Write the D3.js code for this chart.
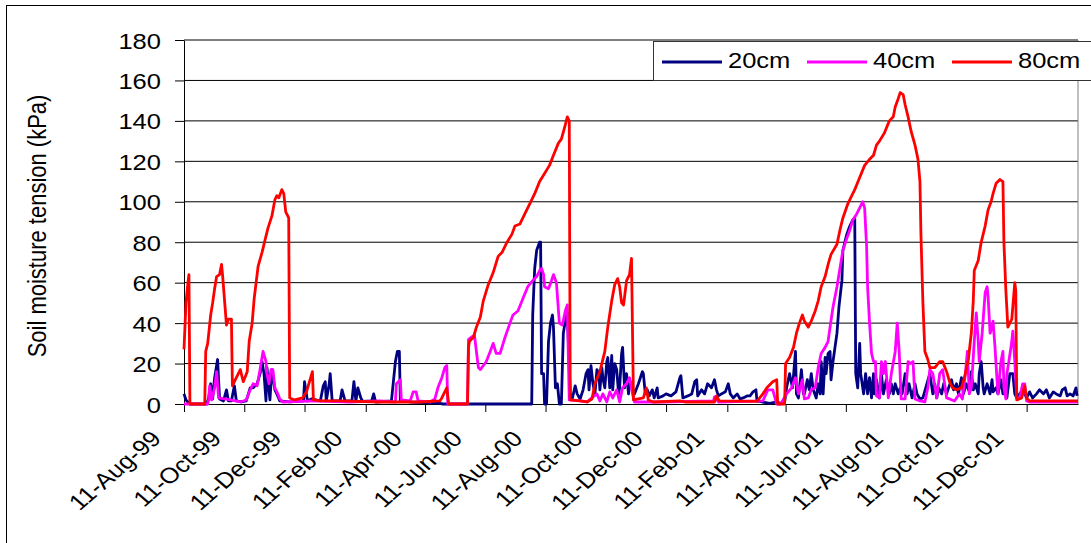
<!DOCTYPE html>
<html>
<head>
<meta charset="utf-8">
<script src="https://cdn.jsdelivr.net/npm/d3@7"></script>
<style>
  body { margin: 0; background: #fff; }
  svg text { font-family: "Liberation Sans", Arial, sans-serif; fill: #000; }
</style>
</head>
<body>
<script>
// the data: [days since 11-Aug-99, soil moisture tension in kPa]
const depth20 = [[0,5],[2,2],[4,1],[6,0],[23,0],[25,3],[27,10],[29,2.5],[31,13],[34,22],[36,2.5],[40,1.5],[43,7],[45,1.5],[48,1.5],[51,9],[53,1.5],[58,1],[63,1.5],[67,8],[70,8],[74,10],[77,15],[79,21],[81,15],[83,1.5],[84,18],[87,2],[89,17],[92,7],[94,5],[97,1.5],[107,1],[121,1.5],[122,11],[125,1.5],[129,2.5],[138,1.5],[141,9],[143,11],[144,1.5],[147,10],[148,15],[150,1.5],[158,1.5],[160,7],[163,1.5],[170,1.5],[172,11],[174,1.5],[176,8],[179,3],[181,1.3],[190,1.5],[192,5],[194,1],[210,1.5],[214,21],[216,26],[218,26],[219,1.5],[229,1],[256,0.5],[262,0],[352,0],[353,44],[355,67],[357,76],[360,80],[361,80],[362,15],[364,15],[365,0],[367,0],[369,31],[371,40],[373,44],[374,38],[376,8],[378,10],[380,0],[382,0],[384,35],[386,41],[388,45],[391,5],[393,2.5],[396,9],[398,5],[401,2.5],[404,7],[407,15],[409,17],[410,7],[412,19],[414,10],[416,5],[418,17],[420,15],[421,7],[423,18],[424,13],[426,8],[428,21],[429,23],[431,8],[433,24],[434,7],[436,20],[438,17],[440,5],[441,8],[443,25],[444,28],[446,8],[448,15],[450,5],[451,12],[456,5],[460,10],[464,16],[465,15],[467,5],[469,7],[471,4],[474,7],[476,3],[479,8],[480,3],[485,4],[488,5],[493,4],[498,6],[502,13],[503,14],[505,3],[510,4],[514,5],[517,11],[519,12],[520,4],[524,7],[527,5],[530,10],[534,8],[537,12],[539,7],[541,4],[544,5],[548,6],[551,10],[553,5],[556,3],[560,5],[563,2.5],[566,3],[570,4],[573,4],[576,6],[579,7],[580,1.5],[585,1],[593,0.3],[600,1],[604,0.3],[608,1],[610,8],[613,15],[616,8],[619,26],[620,5],[622,3],[625,17],[627,5],[628,5],[631,12],[633,7],[635,15],[637,7],[640,3],[642,10],[644,5],[645,21],[647,5],[649,23],[650,15],[652,25],[654,26],[655,12],[657,21],[659,28],[661,35],[663,48],[666,61],[667,76],[671,84],[674,88],[677,91],[679,92],[680,15],[682,8],[684,30],[685,15],[688,5],[690,15],[692,5],[694,13],[696,3],[698,15],[699,5],[701,12],[704,3],[706,15],[708,5],[711,12],[714,5],[716,10],[718,5],[720,10],[723,5],[725,8],[727,5],[730,15],[732,5],[734,10],[737,3],[740,10],[742,5],[745,2.5],[748,3],[752,10],[755,15],[758,5],[760,10],[762,3],[764,8],[767,5],[769,10],[772,5],[774,8],[777,12],[779,7],[782,10],[784,5],[787,13],[789,5],[792,10],[795,6],[797,16],[799,7],[801,10],[804,5],[805,15],[807,21],[809,8],[810,5],[813,10],[816,5],[818,12],[819,6],[822,8],[824,5],[827,12],[829,5],[831,10],[833,3],[836,15],[839,15],[841,5],[843,3],[846,5],[849,7],[851,5],[853,3],[856,6],[859,3],[863,5],[866,7],[870,5],[873,7],[876,3],[880,6],[883,5],[887,4],[889,7],[892,8],[894,4],[897,5],[900,4],[903,8],[904,4]];

const depth40 = [[0,0],[24,0],[25,2],[26,9],[28,2],[31,8],[33,16],[35,3],[47,2],[57,1],[63,2],[67,7],[70,10],[74,9],[77,17],[80,26],[83,21],[84,15],[86,10],[88,17],[90,17],[92,8],[95,5],[97,2.5],[100,1],[131,1.5],[168,1],[198,1.5],[214,1],[215,10],[219,12],[220,2],[229,1.5],[232,6],[235,6],[237,1.5],[249,1],[254,2.5],[257,8],[261,13],[264,18],[266,19],[267,0],[287,0],[288,32],[291,33],[294,34],[298,18],[300,17],[306,21],[310,26],[313,30],[316,25],[320,25],[325,33],[330,40],[333,44],[338,46],[343,52],[348,58],[353,61],[357,63],[360,66],[362,67],[364,64],[365,58],[369,57],[372,61],[374,64],[377,60],[380,40],[383,39],[386,46],[388,49],[390,2],[401,1.5],[408,1],[414,3.5],[418,5],[421,1.5],[424,5],[428,1],[431,6],[434,3],[438,7],[441,1],[444,8],[448,10],[451,13],[454,5],[456,1],[485,1],[536,1.5],[537,3.5],[541,1],[586,1.5],[591,7],[596,7],[600,0],[604,0],[610,5],[615,8],[619,13],[622,5],[626,12],[628,2.5],[632,3],[635,7],[639,8],[642,18],[645,25],[649,28],[652,31],[654,38],[657,48],[661,58],[664,67],[667,76],[671,82],[674,86],[677,91],[681,94],[684,97],[687,100],[689,97],[691,78],[692,58],[694,40],[696,25],[698,21],[700,21],[701,4],[704,3],[706,21],[708,15],[710,21],[713,3],[716,15],[720,26],[722,40],[724,26],[726,2.5],[730,2.5],[733,21],[735,20],[738,21],[740,2.5],[745,1.5],[750,1],[753,8],[755,17],[758,15],[762,3],[765,15],[768,17],[772,3],[775,2.5],[780,1.5],[785,5],[788,2.5],[791,15],[793,26],[795,5],[797,8],[800,31],[802,45],[804,31],[805,21],[808,35],[811,55],[813,58],[814,53],[816,35],[818,38],[819,41],[821,28],[823,12],[824,5],[827,21],[829,26],[830,8],[832,2.5],[833,15],[835,21],[838,31],[839,36],[841,21],[843,3],[846,3],[849,10],[851,10],[853,1.5],[856,1],[905,1]];

const depth80 = [[0,27],[2,50],[4,60],[5,64],[6,0],[21,0],[22,26],[24,30],[27,44],[29,50],[31,57],[33,63],[36,64],[38,69],[39,64],[43,39],[45,42],[48,42],[49,9],[52,12],[57,17],[60,11],[64,16],[66,31],[69,40],[71,52],[75,68],[79,75],[82,81],[85,87],[89,93],[92,101],[94,103],[96,102],[99,106],[101,104],[103,95],[106,92],[107,3],[112,2],[120,3],[124,6],[130,16],[131,2],[138,1.5],[158,1.5],[198,1],[239,1],[259,1.5],[261,3],[266,8],[268,0],[287,0],[288,28],[289,31],[293,33],[296,38],[300,43],[303,51],[308,59],[313,65],[318,73],[322,75],[327,80],[332,84],[335,88],[340,89],[345,94],[350,99],[355,104],[360,110],[365,114],[370,118],[374,123],[379,129],[382,131],[386,138],[388,142],[390,140],[391,2],[401,1.5],[408,1],[413,2.5],[416,10],[421,16],[426,26],[429,38],[433,51],[436,59],[439,62],[441,58],[443,50],[445,49],[448,61],[451,64],[453,72],[455,2],[465,3],[468,8],[470,2],[475,1],[502,1.5],[507,1],[537,1],[539,4],[542,1.5],[580,1.3],[586,5],[590,8],[596,11],[600,12],[601,0],[608,0],[609,20],[613,23],[617,28],[620,35],[623,40],[626,44],[628,41],[632,38],[635,41],[639,46],[642,51],[645,58],[649,63],[652,69],[655,74],[661,79],[664,86],[667,92],[672,99],[676,103],[679,106],[684,112],[689,118],[694,121],[698,123],[701,128],[704,130],[709,134],[714,140],[718,142],[720,147],[723,151],[725,154],[728,153],[730,148],[733,142],[736,135],[740,128],[743,121],[745,110],[746,84],[748,50],[750,26],[753,22],[755,18],[760,18],[765,21],[768,21],[772,16],[775,11],[778,8],[782,7],[787,8],[790,13],[794,22],[797,35],[799,51],[800,66],[804,71],[807,80],[811,88],[814,96],[817,100],[819,104],[822,109],[826,111],[829,110],[830,80],[832,56],[834,38],[838,42],[841,60],[842,56],[843,2],[848,3],[851,9],[853,3],[856,1.5],[905,1.5]];

const seriesNames = ["20cm", "40cm", "80cm"];
const seriesColours = ["#000080", "#ff00ff", "#ff0000"];
const xTickLabels = ["11-Aug-99","11-Oct-99","11-Dec-99","11-Feb-00","11-Apr-00","11-Jun-00","11-Aug-00","11-Oct-00","11-Dec-00","11-Feb-01","11-Apr-01","11-Jun-01","11-Aug-01","11-Oct-01","11-Dec-01"];
const yTicks = [0, 20, 40, 60, 80, 100, 120, 140, 160, 180];

// sizes
const w = 1091
const h = 543
const stretch = 1.16 // the original text is a bit wide

const parseDate = d3.timeParse("%d-%b-%y");
const startDate = parseDate("11-Aug-99");
const endDate = d3.timeDay.offset(startDate, 905);

const svg = d3.select("body")
        .append("svg")
        .attr("width", w)
        .attr("height", h);

// outer frame of the chart
svg.append("rect")
        .attr("x", 6.5).attr("y", 5.5)
        .attr("width", 1200).attr("height", 700)
        .attr("fill", "#fff")
        .attr("stroke", "#000");

const x = d3.scaleTime().domain([startDate, endDate]).range([184, 1078]);
const y = d3.scaleLinear().domain([0, 180]).range([404, 40]);

// gridlines
svg.append("g")
        .selectAll("line")
        .data(yTicks.slice(1))
        .enter()
        .append("line")
        .attr("x1", 184).attr("x2", 1078)
        .attr("y1", d => y(d)).attr("y2", d => y(d))
        .attr("stroke", "#000");

// right border of plot area
svg.append("line")
        .attr("x1", 1078).attr("x2", 1078)
        .attr("y1", y(180)).attr("y2", y(0))
        .attr("stroke", "#808080");

// y axis
const yAxis = svg.append("g")
        .attr("transform", "translate(184,0)")
        .call(d3.axisLeft(y).tickValues(yTicks).tickSize(9).tickSizeOuter(0));
yAxis.selectAll("text")
        .attr("x", null).attr("dy", null)
        .attr("text-anchor", "end")
        .attr("transform", `translate(-23,8) scale(${stretch},1)`)
        .style("font-size", "22px");

// x axis
const xAxis = svg.append("g")
        .attr("transform", "translate(0,404)")
        .call(d3.axisBottom(x)
            .tickValues(xTickLabels.map(parseDate))
            .tickFormat((d, i) => xTickLabels[i])
            .tickSize(8).tickSizeOuter(0));
xAxis.selectAll("text")
        .attr("y", null).attr("dy", null)
        .attr("text-anchor", "end")
        .attr("transform", `translate(-22,36) scale(${stretch},1) rotate(-45)`)
        .style("font-size", "22px");
svg.selectAll(".domain, .tick line").attr("stroke", "#000");

// the three lines
const line = d3.line()
        .x(d => x(d3.timeDay.offset(startDate, d[0])))
        .y(d => y(d[1]));

[depth20, depth40, depth80].forEach((data, i) => {
    svg.append("path")
        .datum(data)
        .attr("fill", "none")
        .attr("stroke", seriesColours[i])
        .attr("stroke-width", 2.8)
        .attr("stroke-linejoin", "round")
        .attr("d", line);
});

// y axis title
svg.append("text")
        .attr("transform", `translate(46,226) scale(${stretch},1) rotate(-90)`)
        .attr("text-anchor", "middle")
        .style("font-size", "22px")
        .text("Soil moisture tension (kPa)");

// legend
const legend = svg.append("g");
legend.append("rect")
        .attr("x", 653.5).attr("y", 41.5)
        .attr("width", 460).attr("height", 39)
        .attr("fill", "#fff")
        .attr("stroke", "#333");
const legendX = [662, 807, 952];
seriesNames.forEach((name, i) => {
    legend.append("line")
        .attr("x1", legendX[i]).attr("x2", legendX[i] + 60)
        .attr("y1", 62).attr("y2", 62)
        .attr("stroke", seriesColours[i])
        .attr("stroke-width", 2.8);
    legend.append("text")
        .attr("transform", `translate(${legendX[i] + 66},68) scale(${stretch},1)`)
        .style("font-size", "22px")
        .text(name);
});
</script>
</body>
</html>
